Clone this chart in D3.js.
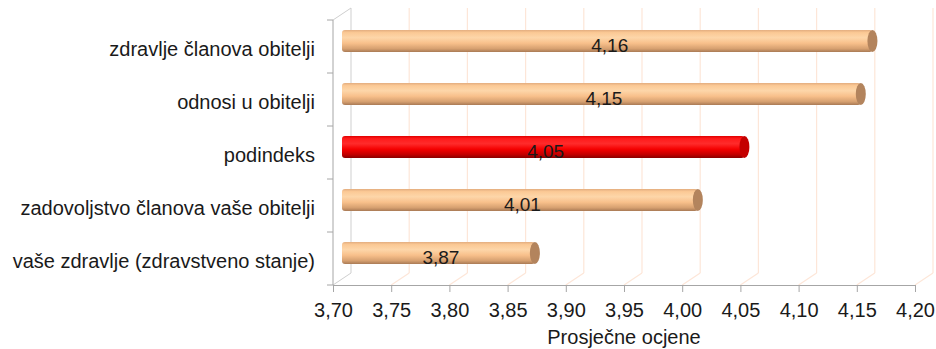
<!DOCTYPE html>
<html>
<head>
<meta charset="utf-8">
<script src="https://cdn.jsdelivr.net/npm/d3@7"></script>
<style>
  body { margin: 0; background: #fff; }
  svg text { font-family: "Liberation Sans", Arial, sans-serif; }
</style>
</head>
<body>
<svg width="936" height="349"></svg>
<script>
// data, top to bottom
var categories = [
  "zdravlje članova obitelji",
  "odnosi u obitelji",
  "podindeks",
  "zadovoljstvo članova vaše obitelji",
  "vaše zdravlje (zdravstveno stanje)"
];
var values = [4.16, 4.15, 4.05, 4.01, 3.87];
var highlight = ["podindeks"];
var tickValues = [3.70, 3.75, 3.80, 3.85, 3.90, 3.95, 4.00, 4.05, 4.10, 4.15, 4.20];
var axisTitle = "Prosječne ocjene";

var svg = d3.select("svg");
var fmt = function(v) { return d3.format(".2f")(v).replace(".", ","); };

// front plane of the 3d box (window.top is read-only, so own names)
var plotL = 333, plotR = 915, plotT = 20, plotB = 285;
// depth offset of the back wall
var depthX = 18, depthY = -12;

var x = d3.scaleLinear().domain([3.70, 4.20]).range([plotL, plotR]);
var y = d3.scaleBand().domain(categories).range([plotT, plotB]);

var defs = svg.append("defs");
function grad(id, stops) {
  var gr = defs.append("linearGradient").attr("id", id)
    .attr("x1", 0).attr("y1", 0).attr("x2", 0).attr("y2", 1);
  stops.forEach(function(s) {
    gr.append("stop").attr("offset", s[0]).attr("stop-color", s[1]);
  });
}
grad("orange", [[0, "#e3ad7f"], [0.12, "#fbc995"], [0.35, "#fdd6a9"], [0.6, "#f8c08b"], [0.85, "#d6a070"], [1, "#a97a55"]]);
grad("red", [[0, "#e00000"], [0.12, "#ff1a1a"], [0.35, "#ff2b2b"], [0.6, "#f50000"], [0.85, "#c00000"], [1, "#8a0000"]]);

var g = svg.append("g");

// back wall gridlines and floor lines
g.append("g").selectAll("line")
  .data(tickValues.slice(1))
  .enter().append("line")
  .attr("x1", d => x(d) + depthX).attr("x2", d => x(d) + depthX)
  .attr("y1", plotT + depthY).attr("y2", plotB + depthY)
  .attr("stroke", "#fde6d8").attr("stroke-width", 1.2);

g.append("g").selectAll("line")
  .data(tickValues.slice(1))
  .enter().append("line")
  .attr("x1", d => x(d)).attr("x2", d => x(d) + depthX)
  .attr("y1", plotB).attr("y2", plotB + depthY)
  .attr("stroke", "#fde6d8").attr("stroke-width", 1.2);

// left wall outline
g.append("path")
  .attr("d", "M" + plotL + "," + plotT + "L" + (plotL + depthX) + "," + (plotT + depthY) +
    "L" + (plotL + depthX) + "," + (plotB + depthY) + "L" + plotL + "," + plotB)
  .attr("fill", "none").attr("stroke", "#cfcfcf").attr("stroke-width", 1);

// bars (cylinders, halfway into the depth)
var bx = depthX / 2, by = depthY / 2 + 0.5, bh = 22, capR = 5;
var bars = g.append("g").selectAll("g")
  .data(categories)
  .enter().append("g");

bars.append("rect")
  .attr("x", x(3.70) + bx)
  .attr("y", d => y(d) + y.bandwidth() / 2 + by - bh / 2)
  .attr("width", (d, i) => x(values[i]) + bx - capR - (x(3.70) + bx))
  .attr("height", bh)
  .attr("rx", 3)
  .attr("fill", d => highlight.includes(d) ? "url(#red)" : "url(#orange)");

bars.append("ellipse")
  .attr("cx", (d, i) => x(values[i]) + bx - capR)
  .attr("cy", d => y(d) + y.bandwidth() / 2 + by)
  .attr("rx", capR).attr("ry", bh / 2)
  .attr("fill", d => highlight.includes(d) ? "#c40000" : "#b3845d");

bars.append("text")
  .attr("x", (d, i) => (x(3.70) + x(values[i])) / 2 + bx)
  .attr("y", d => y(d) + y.bandwidth() / 2 + by + 11)
  .attr("text-anchor", "middle")
  .attr("font-size", 19)
  .attr("fill", "#1a1a1a")
  .text((d, i) => fmt(values[i]));

// axes
var yAxis = g.append("g")
  .attr("transform", "translate(" + plotL + ",0)");
yAxis.append("line")
  .attr("x1", 0).attr("x2", 0).attr("y1", plotT).attr("y2", plotB)
  .attr("stroke", "#a6a6a6");
yAxis.selectAll(".tk")
  .data(categories.concat(["end"]))
  .enter().append("line")
  .attr("x1", -6).attr("x2", 0)
  .attr("y1", (d, i) => plotT + i * y.step()).attr("y2", (d, i) => plotT + i * y.step())
  .attr("stroke", "#a6a6a6");
yAxis.selectAll("text")
  .data(categories)
  .enter().append("text")
  .attr("x", -18)
  .attr("y", d => y(d) + y.bandwidth() / 2)
  .attr("dy", "9px")
  .attr("text-anchor", "end")
  .attr("font-size", 20)
  .attr("fill", "#1a1a1a")
  .text(d => d);

var xAxis = g.append("g")
  .attr("transform", "translate(0," + plotB + ")")
  .call(d3.axisBottom(x).tickValues(tickValues).tickFormat(fmt).tickSize(7).tickSizeOuter(0));
xAxis.select(".domain").attr("stroke", "#a6a6a6");
xAxis.selectAll(".tick line").attr("stroke", "#a6a6a6");
xAxis.selectAll(".tick text")
  .attr("font-family", "Liberation Sans, Arial, sans-serif")
  .attr("font-size", 20).attr("fill", "#1a1a1a").attr("dy", "22px");

g.append("text")
  .attr("x", (plotL + plotR) / 2)
  .attr("y", 344)
  .attr("text-anchor", "middle")
  .attr("font-size", 20)
  .attr("fill", "#1a1a1a")
  .text(axisTitle);
</script>
</body>
</html>
